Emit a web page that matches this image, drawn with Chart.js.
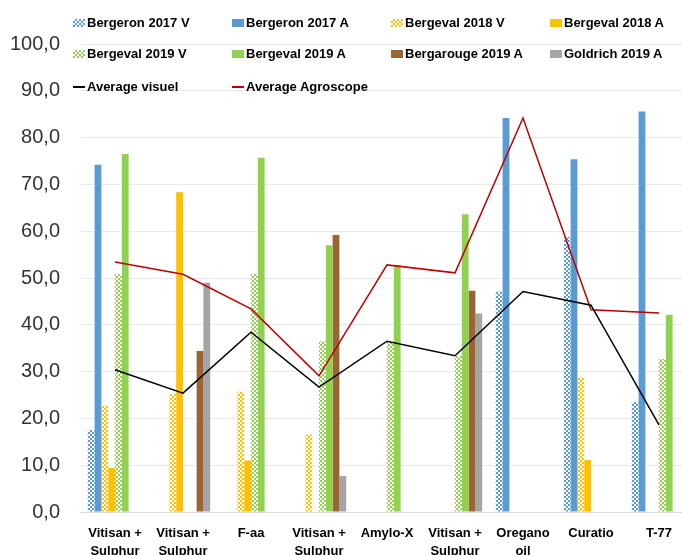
<!DOCTYPE html>
<html>
<head>
<meta charset="utf-8">
<script src="https://cdn.jsdelivr.net/npm/chart.js@4.4.1/dist/chart.umd.min.js"></script>
<style>
  body { margin: 0; overflow: hidden; background: #fff; }
  #wrap { position: relative; width: 700px; height: 580px; }
  #legend { position: absolute; left: 73px; top: 0; width: 640px; font: bold 13px "Liberation Sans", Arial, sans-serif; color: #000; }
  .item { position: absolute; white-space: nowrap; line-height: 16px; }
  .sw { position: absolute; left: 0; top: 4px; width: 12px; height: 8px; }
  .txt { position: absolute; left: 14px; top: 0; }
</style>
</head>
<body>
<div id="wrap">
  <canvas id="myChart" width="700" height="580"></canvas>
  <div id="legend"></div>
</div>
<script>
var categories = [
  ['Vitisan +', 'Sulphur'], ['Vitisan +', 'Sulphur'], 'F-aa', ['Vitisan +', 'Sulphur'],
  'Amylo-X', ['Vitisan +', 'Sulphur'], ['Oregano', 'oil'], 'Curatio', 'T-77'
];

var bergeron2017V = [17.5, null, null, null, null, null, 47.1, 58.8, 23.5];
var bergeron2017A = [74.2, null, null, null, null, null, 84.2, 75.4, 85.6];
var bergeval2018V = [22.7, 25.2, 25.7, 16.5, null, null, null, 28.8, null];
var bergeval2018A = [9.4, 68.3, 11.0, null, null, null, null, 11.1, null];
var bergeval2019V = [50.8, null, 50.9, 36.5, 36.4, 33.4, null, null, 32.7];
var bergeval2019A = [76.5, null, 75.7, 57.0, 52.8, 63.6, null, null, 42.1];
var bergarouge2019A = [null, 34.4, null, 59.2, null, 47.3, null, null, null];
var goldrich2019A = [null, 49.0, null, 7.7, null, 42.4, null, null, null];
var averageVisuel = [30.4, 25.4, 38.4, 26.7, 36.5, 33.4, 47.1, 44.2, 18.6];
var averageAgroscope = [53.4, 50.8, 43.4, 29.1, 52.8, 51.1, 84.2, 43.2, 42.5];

var yTicks = [0, 10, 20, 30, 40, 50, 60, 70, 80, 90, 100];

var blue = '#5B9BD5', yellow = '#FFC000', green = '#92D050', brown = '#996633', grey = '#A5A5A5';

// small checker pattern like the excel "V" series
function checker(color) {
  var c = document.createElement('canvas');
  c.width = 4; c.height = 4;
  var g = c.getContext('2d');
  g.fillStyle = '#fff';
  g.fillRect(0, 0, 4, 4);
  g.fillStyle = color;
  g.fillRect(0, 0, 2, 2);
  g.fillRect(2, 2, 2, 2);
  return g.createPattern(c, 'repeat');
}

function bar(label, data, color, pattern) {
  return {
    type: 'bar', label: label, data: data,
    backgroundColor: pattern ? checker(color) : color,
    swatch: color, pattern: pattern,
    categoryPercentage: 0.8, barPercentage: 1.0, order: 1
  };
}

function line(label, data, color) {
  return {
    type: 'line', label: label, data: data,
    borderColor: color, backgroundColor: color, swatch: color, isLine: true,
    borderWidth: 1.5, pointRadius: 0, tension: 0, fill: false, order: 0
  };
}

var datasets = [
  bar('Bergeron 2017 V', bergeron2017V, blue, true),
  bar('Bergeron 2017 A', bergeron2017A, blue, false),
  bar('Bergeval 2018 V', bergeval2018V, yellow, true),
  bar('Bergeval 2018 A', bergeval2018A, yellow, false),
  bar('Bergeval 2019 V', bergeval2019V, green, true),
  bar('Bergeval 2019 A', bergeval2019A, green, false),
  bar('Bergarouge 2019 A', bergarouge2019A, brown, false),
  bar('Goldrich 2019 A', goldrich2019A, grey, false),
  line('Average visuel', averageVisuel, '#000000'),
  line('Average Agroscope', averageAgroscope, '#C00000')
];

var ctx = document.getElementById('myChart');
var myChart = new Chart(ctx, {
  type: 'bar',
  data: { labels: categories, datasets: datasets },
  options: {
    responsive: false,
    animation: false,
    devicePixelRatio: 1,
    layout: { padding: { top: 44, right: 7, left: 0, bottom: 0 } },
    plugins: { legend: { display: false }, tooltip: { enabled: false } },
    scales: {
      x: {
        grid: { display: false },
        border: { display: true, color: '#D9D9D9', width: 1 },
        ticks: {
          color: '#000', maxRotation: 0, autoSkip: false, padding: 5,
          font: { family: '"Liberation Sans", Arial, sans-serif', size: 13, weight: 'bold', lineHeight: 1.35 }
        },
        afterFit: function (scale) { scale.height = 68; }
      },
      y: {
        min: 0, max: 100,
        afterBuildTicks: function (scale) { scale.ticks = yTicks.map(function (v) { return { value: v }; }); },
        grid: { color: '#E9E9E9', drawTicks: false },
        border: { display: false },
        ticks: {
          color: '#333', padding: 21,
          font: { family: '"Liberation Sans", Arial, sans-serif', size: 20 },
          callback: function (v) { return v.toFixed(1).replace('.', ','); }
        },
        afterFit: function (scale) { scale.width = 81; }
      }
    }
  }
});

// legend laid out in excel-like columns
var legend = document.getElementById('legend');
var colX = [0, 159, 318, 477];
var rowY = [15, 46, 79];
datasets.forEach(function (ds, i) {
  var item = document.createElement('div');
  item.className = 'item';
  item.style.left = colX[i % 4] + 'px';
  item.style.top = rowY[Math.floor(i / 4)] + 'px';
  var sw = document.createElement('span');
  sw.className = 'sw';
  if (ds.isLine) {
    sw.style.top = '7px'; sw.style.height = '1.5px'; sw.style.background = ds.swatch;
  } else if (ds.pattern) {
    sw.style.background = 'repeating-conic-gradient(' + ds.swatch + ' 0 25%, #fff 0 50%) 0 0 / 4px 4px';
  } else {
    sw.style.background = ds.swatch;
  }
  var txt = document.createElement('span');
  txt.className = 'txt';
  txt.textContent = ds.label;
  item.appendChild(sw);
  item.appendChild(txt);
  legend.appendChild(item);
});
</script>
</body>
</html>
